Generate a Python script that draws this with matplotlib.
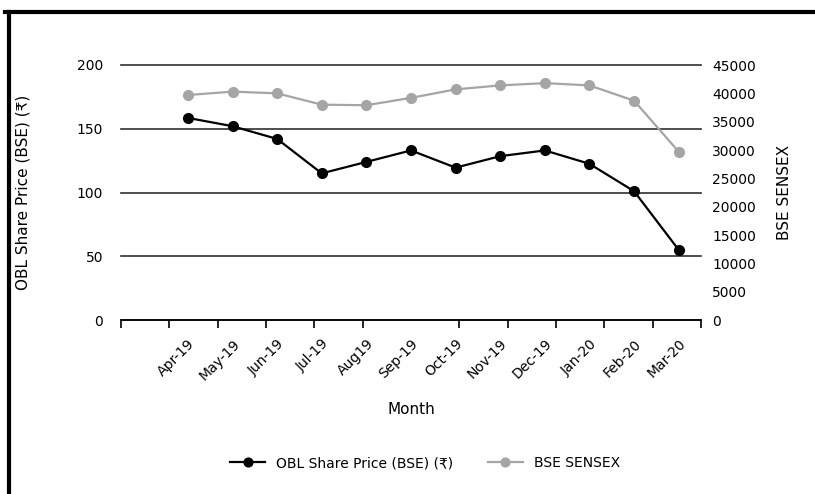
import numpy as np
import matplotlib.pyplot as plt
from matplotlib.lines import Line2D

plt.rcParams['font.family'] = ['DejaVu Sans', 'Noto Sans']

# data
months = ['Apr-19', 'May-19', 'Jun-19', 'Jul-19', 'Aug19', 'Sep-19',
          'Oct-19', 'Nov-19', 'Dec-19', 'Jan-20', 'Feb-20', 'Mar-20']
obl_price = [158.5, 152, 142, 115, 124, 133, 119.5, 128.5, 133, 122.5, 101, 55]
sensex = [39700, 40300, 40000, 38000, 37900, 39200, 40700, 41400, 41800, 41400, 38700, 29700]

left_ticks = [0, 50, 100, 150, 200]
right_ticks = list(range(0, 45001, 5000))

fig = plt.figure(figsize=(8.15, 4.94), dpi=100)
W, H = 815, 494
ax = fig.add_axes([121 / W, 1 - 320 / H, 580 / W, 255 / H])
ax2 = ax.twinx()

x = np.arange(1, len(months) + 1)
grey = "#A5A5A5"

l1, = ax.plot(x, obl_price, color="black", marker="o", markersize=7, linewidth=1.6,
              label="OBL Share Price (BSE) (\u20b9)", zorder=3)
l2, = ax2.plot(x, sensex, color=grey, marker="o", markersize=7, linewidth=1.6,
               label="BSE SENSEX", zorder=3)

ax.set_xlim(-0.5, len(months) + 0.5)
ax.set_ylim(0, 200)
ax2.set_ylim(0, 45000)

# 网格
ax.set_yticks(left_ticks)
ax.grid(axis="y", color="#303030", linewidth=1.2)
for gl in ax.get_ygridlines():
    gl.set_clip_on(False)
ax.set_axisbelow(True)
ax2.set_yticks(right_ticks)

# x 轴刻度
ax.set_xticks(x)
ax.set_xticklabels(months, rotation=45, ha="right", rotation_mode="anchor", fontsize=10)
ax.set_xticks(np.linspace(-0.5, len(months) + 0.5, 13), minor=True)
ax.tick_params(axis="x", which="major", length=0, pad=12)
ax.tick_params(axis="x", which="minor", length=6, width=1.2, color="black", direction="out")
ax.tick_params(axis="y", length=0, labelsize=10, pad=13)
ax2.tick_params(axis="y", length=0, labelsize=10, pad=8)

for a in (ax, ax2):
    for s in ("top", "left", "right"):
        a.spines[s].set_visible(False)
ax.spines["bottom"].set_linewidth(1.2)
ax2.spines["bottom"].set_visible(False)

ax.set_xlabel("Month", fontsize=11, labelpad=14)
ax.set_ylabel("OBL Share Price (BSE) (\u20b9)", fontsize=11, labelpad=33)
ax2.set_ylabel("BSE SENSEX", fontsize=11, labelpad=15)

fig.legend(handles=[l1, l2], loc="center", bbox_to_anchor=(425 / W, 1 - 463 / H),
           ncol=2, frameon=False, fontsize=10, handlelength=2.5, columnspacing=2.5,
           markerscale=0.9)

# 外框 (top and left only)
fig.add_artist(Line2D([5 / W, 1], [1 - 12 / H, 1 - 12 / H], color="black", linewidth=3,
                      transform=fig.transFigure))
fig.add_artist(Line2D([8.5 / W, 8.5 / W], [0, 1 - 12 / H], color="black", linewidth=3,
                      transform=fig.transFigure))

fig.savefig("out.png", dpi=100)
